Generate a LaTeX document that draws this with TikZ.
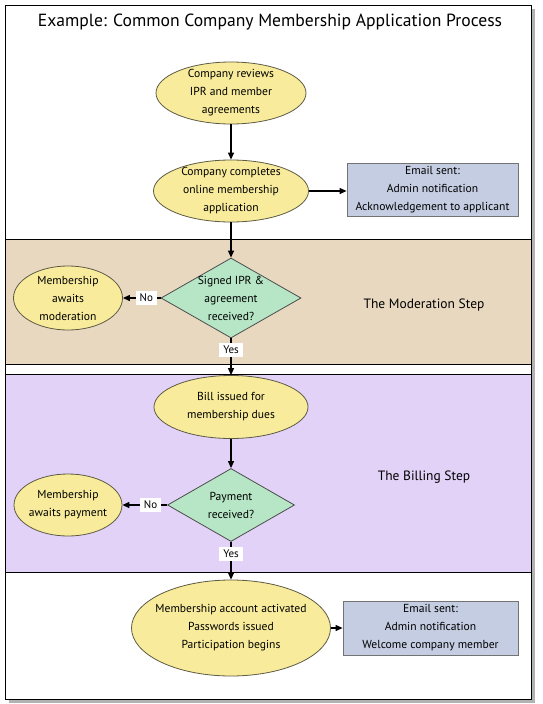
\documentclass[tikz,border=0pt]{standalone}
\usepackage{fontspec}
\setmainfont{PT Sans}
\usetikzlibrary{shapes.geometric,arrows.meta}
\definecolor{ellfill}{HTML}{F8EC9C}
\definecolor{ellline}{HTML}{5E5A44}
\definecolor{diafill}{HTML}{B6E6C6}
\definecolor{boxfill}{HTML}{C5CDE2}
\definecolor{modfill}{HTML}{E8D8C0}
\definecolor{billfill}{HTML}{E2D2F8}
\begin{document}
\begin{tikzpicture}[x=1pt,y=-1pt,
  txt/.style={font=\fontsize{11.6}{18}\selectfont, align=center, inner sep=0pt},
  proc/.style={ellipse, draw=ellline, fill=ellfill, line width=0.8pt, inner sep=0pt},
  dec/.style={diamond, draw=black!70, fill=diafill, line width=0.8pt, inner sep=0pt},
  mail/.style={rectangle, draw=black!55, fill=boxfill, line width=0.8pt, inner sep=0pt, txt},
  flow/.style={line width=1.1pt, -{Triangle[length=7pt,width=6pt]}},
  lab/.style={fill=white, inner xsep=4pt, inner ysep=3pt, font=\fontsize{11}{13}\selectfont},
  band/.style={draw=black, line width=0.8pt}]
\useasboundingbox (0,0) rectangle (542,704);
% frame with shadow
\fill[black!30] (9,9) rectangle (535,703);
\draw[fill=white, line width=1pt] (5,5) rectangle (531,699);
% bands
\draw[band, fill=modfill] (5,239) rectangle (531,364);
\draw[band, fill=billfill] (5,374) rectangle (531,572);
% title
\node[txt, font=\fontsize{17.6}{20}\selectfont] (title) at (270,22) {Example: Common Company Membership Application Process};
% nodes
\node[proc, minimum width=150pt, minimum height=62pt,
  label={[txt]center:{Company reviews\\IPR and member\\agreements}}] (rev) at (231,93) {};
\node[proc, minimum width=155pt, minimum height=62pt,
  label={[txt]center:{Company completes\\online membership\\application}}] (comp) at (231,191) {};
\node[mail, minimum width=171pt, minimum height=53pt] (mail1) at (432.5,189.5) {Email sent:\\Admin notification\\Acknowledgement to applicant};
\node[dec, minimum width=140pt, minimum height=80pt,
  label={[txt]center:{Signed IPR \&\\agreement\\received?}}] (sig) at (231,298) {};
\node[proc, minimum width=109pt, minimum height=64pt,
  label={[txt]center:{Membership\\awaits\\moderation}}] (wmod) at (68,298) {};
\node[txt, font=\fontsize{13.5}{16}\selectfont] (modlab) at (424,305) {The Moderation Step};
\node[proc, minimum width=154pt, minimum height=63pt,
  label={[txt]center:{Bill issued for\\membership dues}}] (bill) at (231,407) {};
\node[dec, minimum width=127pt, minimum height=73pt,
  label={[txt]center:{Payment\\received?}}] (pay) at (231,505) {};
\node[proc, minimum width=108pt, minimum height=62pt,
  label={[txt]center:{Membership\\awaits payment}}] (wpay) at (68,505) {};
\node[txt, font=\fontsize{13.5}{16}\selectfont] (billlab) at (424,477) {The Billing Step};
\node[proc, minimum width=199pt, minimum height=96pt,
  label={[txt]center:{Membership account activated\\Passwords issued\\Participation begins}}] (act) at (231,628) {};
\node[mail, minimum width=175pt, minimum height=54pt] (mail2) at (430.5,628) {Email sent:\\Admin notification\\Welcome company member};
% connectors
\draw[flow] (rev) -- (comp);
\draw[flow] (comp.east) -- (comp.east -| mail1.west);
\draw[flow] (comp) -- (sig);
\draw[flow] (sig) -- node[lab, pos=0.38] {No} (wmod);
\draw[flow] (sig) -- node[lab, pos=0.32] {Yes} (bill);
\draw[flow] (bill) -- (pay);
\draw[flow] (pay) -- node[lab, pos=0.37] {No} (wpay);
\draw[flow] (pay) -- node[lab, pos=0.31] {Yes} (act);
\draw[flow] (act) -- (mail2);
\end{tikzpicture}
\end{document}
